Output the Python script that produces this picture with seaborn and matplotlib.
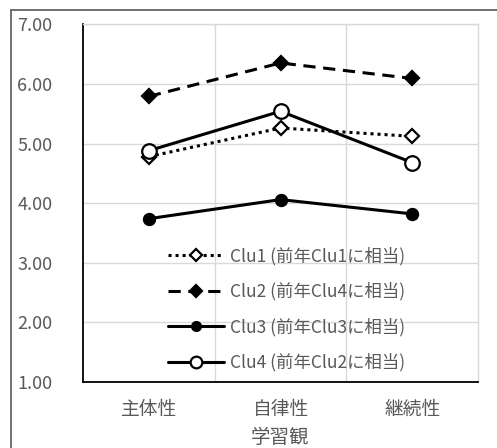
import matplotlib
matplotlib.use("Agg")
import matplotlib.pyplot as plt
import seaborn as sns
import pandas as pd
from matplotlib.lines import Line2D

# Learning-view scores per cluster
categories = ["主体性", "自律性", "継続性"]
clu1 = [4.78, 5.26, 5.12]
clu2 = [5.79, 6.35, 6.09]
clu3 = [3.74, 4.06, 3.82]
clu4 = [4.88, 5.54, 4.68]
labels = ["Clu1 (前年Clu1に相当)", "Clu2 (前年Clu4に相当)",
          "Clu3 (前年Clu3に相当)", "Clu4 (前年Clu2に相当)"]
y_ticks = [1, 2, 3, 4, 5, 6, 7]

sns.set_theme(style="white")
plt.rcParams["font.family"] = ["Noto Sans CJK JP", "DejaVu Sans"]

fig = plt.figure(figsize=(4.97, 4.48), dpi=100)
ax = fig.add_axes([0.167, 0.147, 0.795, 0.799])

series = [clu1, clu2, clu3, clu4]
styles = [
    dict(linestyle=(0, (1, 1.3)), marker="D", mfc="white", ms=7.5, lw=2.2),
    dict(linestyle=(0, (4, 2.5)), marker="D", mfc="black", ms=7.5, lw=2.2),
    dict(linestyle="-", marker="o", mfc="black", ms=8, lw=2.2),
    dict(linestyle="-", marker="o", mfc="white", ms=10.5, lw=2.2),
]
for vals, lab, st in zip(series, labels, styles):
    df = pd.DataFrame({"cat": categories, "val": vals})
    sns.lineplot(data=df, x="cat", y="val", ax=ax, color="black", sort=False,
                 label=lab, linestyle=st["linestyle"], marker=st["marker"],
                 markerfacecolor=st["mfc"], markeredgecolor="black",
                 markeredgewidth=1.6, markersize=st["ms"], linewidth=st["lw"])

ax.set_xlim(-0.5, 2.5)
ax.set_ylim(1, 7)
ax.set_yticks(y_ticks)
ax.set_yticklabels([f"{v:.2f}" for v in y_ticks])
ax.set_xticks([0.5, 1.5], minor=True)
ax.grid(True, which="major", axis="y", color="#d9d9d9", lw=1)
ax.grid(True, which="minor", axis="x", color="#d9d9d9", lw=1)
ax.tick_params(axis="both", which="both", length=0, colors="#595959")
ax.tick_params(axis="x", pad=12, labelsize=13.5)
ax.tick_params(axis="y", pad=22, labelsize=13)
ax.set_ylabel("")
ax.set_xlabel("学習観", fontsize=14, color="#595959", labelpad=5)

for side in ["top", "right"]:
    ax.spines[side].set_color("#d9d9d9")
    ax.spines[side].set_linewidth(1)
for side in ["left", "bottom"]:
    ax.spines[side].set_color("black")
    ax.spines[side].set_linewidth(1.3)

leg = ax.legend(loc="upper left", bbox_to_anchor=(168 / 497, 1 - 247 / 448),
                bbox_transform=fig.transFigure, frameon=False,
                fontsize=12.5, handlelength=3.2, handletextpad=0.35,
                labelspacing=0.97, borderaxespad=0, borderpad=0,
                markerscale=0.8)
for t in leg.get_texts():
    t.set_color("#595959")

# Outer chart frame
fig.add_artist(Line2D([11 / 497, 11 / 497], [0, 1 - 10 / 448],
                      transform=fig.transFigure, color="#595959", lw=1.2))
fig.add_artist(Line2D([11 / 497, 1], [1 - 10 / 448, 1 - 10 / 448],
                      transform=fig.transFigure, color="#595959", lw=1.2))

fig.savefig("out.png", dpi=100)
